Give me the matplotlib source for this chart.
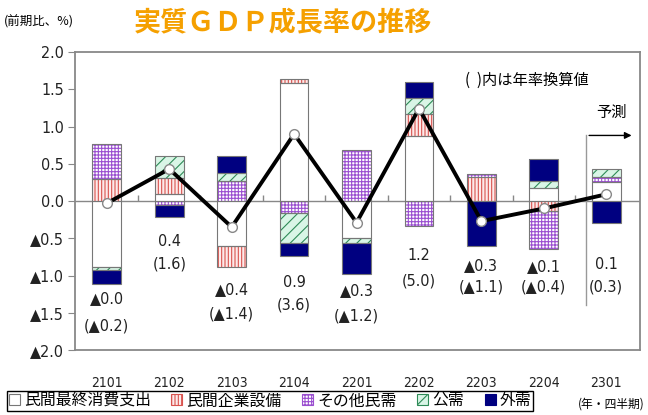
import numpy as np
import matplotlib
matplotlib.use("Agg")
import matplotlib.pyplot as plt
from matplotlib.patches import Patch

plt.rcParams['font.family'] = ['Noto Sans CJK JP', 'DejaVu Sans']
plt.rcParams['hatch.linewidth'] = 0.8
NUM_FONT = ['DejaVu Sans']

# quarters (year-quarter)
quarters = ["2101", "2102", "2103", "2104", "2201", "2202", "2203", "2204", "2301"]

# contributions (%pt)
consumption = [-0.88, 0.09, -0.60, 1.58, -0.49, 0.87, 0.00, 0.18, 0.25]
capex       = [0.29, 0.22, -0.29, 0.06, 0.00, 0.30, 0.32, -0.13, 0.00]
other_priv  = [0.48, -0.06, 0.27, -0.16, 0.68, -0.34, 0.04, -0.51, 0.07]
public      = [-0.04, 0.30, 0.10, -0.40, -0.08, 0.21, 0.00, 0.09, 0.11]
external    = [-0.20, -0.16, 0.24, -0.18, -0.41, 0.22, -0.61, 0.30, -0.30]

# real GDP growth q/q
gdp = [-0.03, 0.43, -0.35, 0.90, -0.29, 1.24, -0.27, -0.10, 0.09]

# labels: q/q and annualised
lab_qq = ["▲0.0", "0.4", "▲0.4", "0.9", "▲0.3", "1.2", "▲0.3", "▲0.1", "0.1"]
lab_ann = ["(▲0.2)", "(1.6)", "(▲1.4)", "(3.6)", "(▲1.2)", "(5.0)", "(▲1.1)", "(▲0.4)", "(0.3)"]
lab_y1 = [-1.31, -0.55, -1.19, -1.10, -1.20, -0.73, -0.86, -0.88, -0.85]
lab_y2 = [-1.68, -0.85, -1.52, -1.40, -1.55, -1.08, -1.15, -1.16, -1.15]

series = [
    ("民間最終消費支出", consumption, "white", "#777777", ""),
    ("民間企業設備", capex, "#fdeaea", "#d9534f", "|||||"),
    ("その他民需", other_priv, "white", "#9b4fd0", "+++++"),
    ("公需", public, "#d9f5e6", "#2e8b57", "///"),
    ("外需", external, "#000080", "#000080", ""),
]

fig = plt.figure(figsize=(6.48, 4.15), dpi=100)
ax = fig.add_axes([75/648, 1-350/415, 565/648, 298/415])

x = np.arange(len(quarters))
w = 0.46
pos = np.zeros(len(x))
neg = np.zeros(len(x))
handles = []
for name, vals, face, hc, hatch in series:
    v = np.array(vals)
    m = v != 0
    bottom = np.where(v >= 0, pos, neg)
    ax.bar(x[m], v[m], w, bottom=bottom[m], color=face, edgecolor=hc,
           hatch=hatch, linewidth=0, zorder=2)
    ax.bar(x[m], v[m], w, bottom=bottom[m], fill=False, edgecolor="#777777",
           linewidth=0.8, zorder=2.5)
    pos = pos + np.where(v > 0, v, 0)
    neg = neg + np.where(v < 0, v, 0)
    handles.append(Patch(facecolor=face, edgecolor=hc, hatch=hatch, linewidth=0.8))

ax.axhline(0, color="#888888", lw=1, zorder=1)
ax.vlines(np.arange(0.5, 8, 1), 0, 0.08, color="#888888", lw=1, zorder=1)

ax.plot(x, gdp, color="black", lw=2.8, marker="o", ms=7, mfc="white",
        mec="#888888", mew=1, zorder=5)

for i in range(len(x)):
    ax.text(x[i], lab_y1[i], lab_qq[i], ha="center", va="center", fontsize=11.5,
            family=NUM_FONT, stretch="condensed", color="#222222")
    ax.text(x[i], lab_y2[i], lab_ann[i], ha="center", va="center", fontsize=11.5,
            family=NUM_FONT, stretch="condensed", color="#222222")

# forecast marker
ax.plot([7.68, 7.68], [-1.39, 0.88], color="#999999", lw=1, zorder=1)
ax.annotate("", xy=(8.45, 0.88), xytext=(7.68, 0.88),
            arrowprops=dict(arrowstyle="-|>", color="black", lw=1, mutation_scale=10))
ax.text(8.09, 1.19, "予測", ha="center", va="center", fontsize=11)
ax.text(5.74, 1.62, "(  )内は年率換算値", ha="left", va="center", fontsize=11)

ax.set_xlim(-0.51, 8.54)
ax.set_ylim(-2, 2)
yt = np.arange(-2, 2.01, 0.5)
ax.set_yticks(yt, [("▲%.1f" % abs(t)) if t < 0 else "%.1f" % t for t in yt])
ax.set_xticks(x, quarters)
ax.tick_params(axis="y", length=5, color="#888888", labelsize=11.5, pad=3)
ax.tick_params(axis="x", length=0, labelsize=10, pad=19)
for lab in ax.get_xticklabels() + ax.get_yticklabels():
    lab.set_family(NUM_FONT)
    lab.set_stretch("condensed")
    lab.set_color("#222222")
for s in ax.spines.values():
    s.set_color("#888888")
    s.set_linewidth(1.3)

fig.text(0.436, 0.947, "実質ＧＤＰ成長率の推移", ha="center", va="center",
         fontsize=19.5, fontweight="bold", color="#f5a000")
fig.text(0.006, 0.947, "(前期比、%)", ha="left", va="center", fontsize=9)
fig.text(0.995, 0.027, "(年・四半期)", ha="right", va="center", fontsize=8.5)

leg = fig.legend(handles, [s[0] for s in series], loc="lower left",
                 bbox_to_anchor=(0.006, 0.002), ncol=5, frameon=True,
                 fancybox=False, edgecolor="black", framealpha=1, fontsize=11.4,
                 handlelength=0.7, handleheight=0.7, handletextpad=0.25,
                 columnspacing=1.3, borderpad=0.1, borderaxespad=0.2)
leg.get_frame().set_linewidth(1)

fig.savefig("out.png", dpi=100)
